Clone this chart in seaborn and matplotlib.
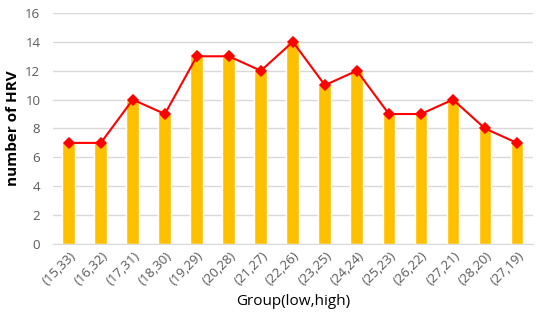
import numpy as np
import pandas as pd
import matplotlib
matplotlib.use("Agg")
import matplotlib.pyplot as plt
import seaborn as sns

groups = ["(15,33)", "(16,32)", "(17,31)", "(18,30)", "(19,29)", "(20,28)", "(21,27)",
          "(22,26)", "(23,25)", "(24,24)", "(25,23)", "(26,22)", "(27,21)", "(28,20)", "(27,19)"]
counts = [7, 7, 10, 9, 13, 13, 12, 14, 11, 12, 9, 9, 10, 8, 7]

df = pd.DataFrame({"group": groups, "count": counts})

sns.set_style("white")
plt.rcParams['font.family'] = ['Open Sans', 'DejaVu Sans']

fig = plt.figure(figsize=(5.5, 3.24), dpi=100)
ax = fig.add_axes([0.096, 0.247, 0.873, 0.713])

sns.barplot(data=df, x="group", y="count", color="#FFC000", width=0.4,
            saturation=1, ax=ax, zorder=2)
sns.pointplot(data=df, x="group", y="count", color="#FF0000", markers="D",
              markersize=5, linewidth=1.5, ax=ax, zorder=3)

ax.set_ylim(0, 16)
ax.set_yticks(range(0, 17, 2))
ax.set_xlim(-0.5, len(groups) - 0.5)
ax.yaxis.grid(True, color="#D9D9D9", linewidth=1, zorder=0)
ax.set_axisbelow(True)
for s in ["top", "right", "left"]:
    ax.spines[s].set_visible(False)
ax.spines["bottom"].set_color("#D9D9D9")

ax.tick_params(axis="y", length=0, labelsize=9.5, colors="#595959", pad=9)
ax.tick_params(axis="x", length=0, labelsize=9.5, colors="#595959", pad=4)
plt.setp(ax.get_xticklabels(), rotation=45, ha="right", rotation_mode="anchor")

ax.set_ylabel("number of HRV", fontsize=11, fontweight="bold", color="black", labelpad=4)
ax.set_xlabel("Group(low,high)", fontsize=11, color="black", labelpad=4)

fig.savefig("out.png", dpi=100)
